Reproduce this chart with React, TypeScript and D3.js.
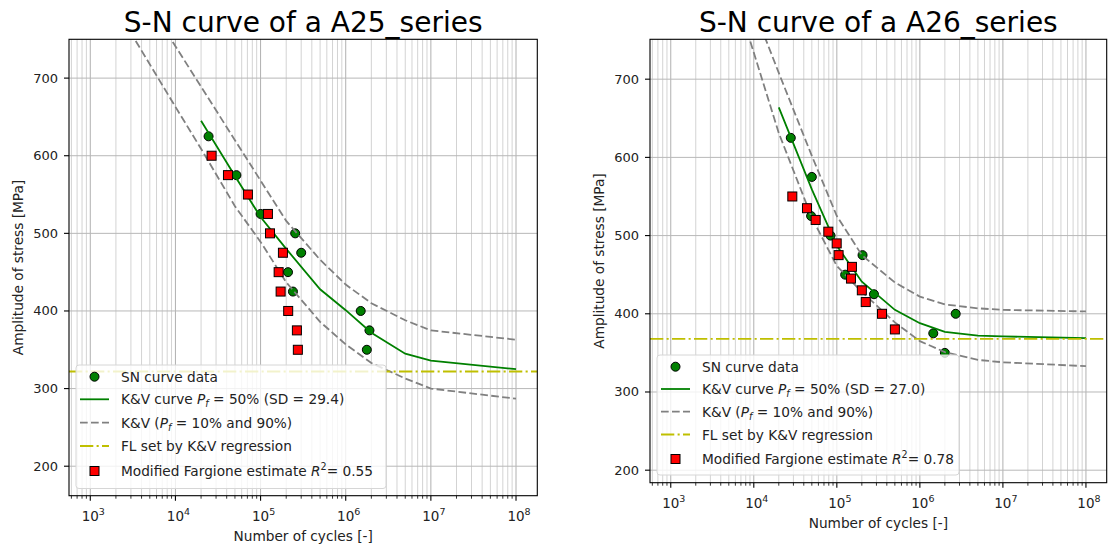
import React from 'react';
import * as d3 from 'd3';

// cycles at which the K&V curves were evaluated
const KV_N = [2e4, 5e4, 1e5, 2e5, 5e5, 1e6, 2e6, 5e6, 1e7, 1e8];
const BAND_N = [1e3, 1e4, 2e4, 5e4, 1e5, 2e5, 5e5, 1e6, 2e6, 5e6, 1e7, 1e8];

// A25 series
const A25_SN_N = [2.45e4, 5.2e4, 1.0e5, 2.55e5, 3.0e5, 2.1e5, 2.4e5, 1.5e6, 1.9e6, 1.77e6];
const A25_SN_S = [625, 575, 525, 500, 475, 450, 425, 400, 375, 350];
const A25_FARG_N = [2.66e4, 4.14e4, 7.1e4, 1.22e5, 1.29e5, 1.83e5, 1.63e5, 1.72e5, 2.11e5, 2.67e5, 2.74e5];
const A25_FARG_S = [600, 575, 550, 525, 500, 475, 450, 425, 400, 375, 350];
const A25_KV50 = [645, 574, 521, 480, 428, 401, 372, 345, 336, 325];
const A25_KV10 = [845, 663, 609, 535, 489, 437, 386, 357, 333, 313, 300, 287];
const A25_KV90 = [914, 741, 689, 620, 568, 516, 466, 434, 410, 388, 375, 363];
const A25_FL = 322;

// A26 series
const A26_SN_N = [2.79e4, 5.0e4, 4.9e4, 8.4e4, 2.04e5, 1.26e5, 2.8e5, 2.7e6, 1.45e6, 2.0e6];
const A26_SN_S = [625, 575, 525, 500, 475, 450, 425, 400, 375, 350];
const A26_FARG_N = [2.91e4, 4.37e4, 5.56e4, 7.9e4, 9.96e4, 1.05e5, 1.52e5, 1.48e5, 2.0e5, 2.23e5, 3.5e5, 5.0e5];
const A26_FARG_S = [550, 535, 520, 505, 490, 475, 460, 445, 430, 415, 400, 380];
const A26_KV50 = [664, 559, 487, 441, 405, 388, 377, 372, 371, 369];
const A26_KV10 = [1070, 734, 631, 523, 461, 428, 389, 365, 351, 341, 338, 333];
const A26_KV90 = [1100, 790, 708, 602, 525, 475, 440, 422, 412, 407, 405, 403];
const A26_FL = 368;

const Y_TICKS = [200, 300, 400, 500, 600, 700];
const X_DECADES = [1e3, 1e4, 1e5, 1e6, 1e7, 1e8];
const X_EXP = ['3', '4', '5', '6', '7', '8'];

const FONT = '"DejaVu Sans", Verdana, sans-serif';

function Panel(props: any) {
  const { id, box, yDomain, title, snN, snS, fN, fS, kv50, kv10, kv90, fl, sd, r2, leg } = props;
  const x = d3.scaleLog().domain([Math.pow(10, 2.75), Math.pow(10, 8.25)]).range([box.x0, box.x1]);
  const y = d3.scaleLinear().domain(yDomain).range([box.y1, box.y0]);

  const path = (ns: number[], ss: number[]) =>
    d3.line<number>().x((_, i) => x(ns[i])).y((s) => y(s))(ss) || '';

  // log minor ticks
  const minor: number[] = [];
  for (let dec = 100; dec < 1e8; dec *= 10) {
    for (let k = 2; k <= 9; k++) {
      const v = k * dec;
      if (v >= x.domain()[0] && v <= x.domain()[1]) minor.push(v);
    }
  }

  const rows = leg.rows;
  const hx0 = leg.x + 4, hx1 = leg.x + 33, hc = (hx0 + hx1) / 2, tx = leg.x + 45;

  return (
    <g fontFamily={FONT}>
      <defs>
        <clipPath id={id}>
          <rect x={box.x0} y={box.y0} width={box.x1 - box.x0} height={box.y1 - box.y0} />
        </clipPath>
      </defs>
      <rect x={box.x0} y={box.y0} width={box.x1 - box.x0} height={box.y1 - box.y0} fill="white" />
      {/* grid */}
      {minor.map((v) => (
        <line key={'mg' + v} x1={x(v)} x2={x(v)} y1={box.y0} y2={box.y1} stroke="#d3d3d3" strokeWidth={1} />
      ))}
      {X_DECADES.map((v) => (
        <line key={'g' + v} x1={x(v)} x2={x(v)} y1={box.y0} y2={box.y1} stroke="#b0b0b0" strokeWidth={1} />
      ))}
      {Y_TICKS.map((v) => (
        <line key={'gy' + v} x1={box.x0} x2={box.x1} y1={y(v)} y2={y(v)} stroke="#b8b8b8" strokeWidth={1} />
      ))}

      <g clipPath={`url(#${id})`}>
        {snN.map((n: number, i: number) => (
          <circle key={'sn' + i} cx={x(n)} cy={y(snS[i])} r={4.5} fill="#008000" stroke="black" strokeWidth={1} />
        ))}
        <path d={path(KV_N, kv50)} fill="none" stroke="#008000" strokeWidth={1.8} />
        <path d={path(BAND_N, kv10)} fill="none" stroke="#808080" strokeWidth={1.8} strokeDasharray="7.7,3.3" />
        <path d={path(BAND_N, kv90)} fill="none" stroke="#808080" strokeWidth={1.8} strokeDasharray="7.7,3.3" />
        <line x1={box.x0} x2={box.x1} y1={y(fl)} y2={y(fl)} stroke="#bfbf00" strokeWidth={1.8} strokeDasharray="13.3,3.3,2.1,3.3" />
        {fN.map((n: number, i: number) => (
          <rect key={'f' + i} x={x(n) - 4.5} y={y(fS[i]) - 4.5} width={9} height={9} fill="red" stroke="black" strokeWidth={1} />
        ))}
      </g>

      {/* spines */}
      <rect x={box.x0} y={box.y0} width={box.x1 - box.x0} height={box.y1 - box.y0} fill="none" stroke="black" strokeWidth={1.1} />

      {/* y ticks */}
      {Y_TICKS.map((v) => (
        <g key={'yt' + v}>
          <line x1={box.x0 - 5} x2={box.x0} y1={y(v)} y2={y(v)} stroke="black" strokeWidth={1.1} />
          <text x={box.x0 - 11} y={y(v) + 4.5} textAnchor="end" fontSize={13} fill="#222">{v}</text>
        </g>
      ))}
      {/* x ticks */}
      {minor.map((v) => (
        <line key={'mt' + v} x1={x(v)} x2={x(v)} y1={box.y1} y2={box.y1 + 3} stroke="black" strokeWidth={0.8} />
      ))}
      {X_DECADES.map((v, i) => (
        <g key={'xt' + v}>
          <line x1={x(v)} x2={x(v)} y1={box.y1} y2={box.y1 + 5} stroke="black" strokeWidth={1.1} />
          <text x={x(v) + 3} y={box.y1 + 25} textAnchor="middle" fontSize={13.5} fill="#222">
            10<tspan dy={-6} fontSize={9.5}>{X_EXP[i]}</tspan>
          </text>
        </g>
      ))}

      <text x={(box.x0 + box.x1) / 2} y={box.y1 + 45} textAnchor="middle" fontSize={13.7} fill="#222">Number of cycles [-]</text>
      <text transform={`translate(${box.x0 - 46},${(box.y0 + box.y1) / 2}) rotate(-90)`} textAnchor="middle" fontSize={13.7} fill="#222">
        Amplitude of stress [MPa]
      </text>
      <text x={(box.x0 + box.x1) / 2} y={31.5} textAnchor="middle" fontSize={28} fill="black">{title}</text>

      {/* legend */}
      <rect x={leg.x} y={leg.y} width={leg.w} height={leg.h} rx={3} fill="white" fillOpacity={0.8} stroke="#d6d6d6" strokeWidth={1} />
      <circle cx={hc} cy={rows[0]} r={4.5} fill="#008000" stroke="black" strokeWidth={1} />
      <text x={tx} y={rows[0] + 5} fontSize={13.7} fill="#222">SN curve data</text>
      <line x1={hx0} x2={hx1} y1={rows[1]} y2={rows[1]} stroke="#008000" strokeWidth={1.8} />
      <text x={tx} y={rows[1] + 5} fontSize={13.7} fill="#222">
        K&amp;V curve <tspan fontStyle="italic">P</tspan><tspan fontStyle="italic" fontSize={9.6} dy={3}>f</tspan>
        <tspan dy={-3}> = 50% (SD = {sd})</tspan>
      </text>
      <line x1={hx0} x2={hx1} y1={rows[2]} y2={rows[2]} stroke="#808080" strokeWidth={1.8} strokeDasharray="7.7,3.3" />
      <text x={tx} y={rows[2] + 5} fontSize={13.7} fill="#222">
        K&amp;V (<tspan fontStyle="italic">P</tspan><tspan fontStyle="italic" fontSize={9.6} dy={3}>f</tspan>
        <tspan dy={-3}> = 10% and 90%)</tspan>
      </text>
      <line x1={hx0} x2={hx1} y1={rows[3]} y2={rows[3]} stroke="#bfbf00" strokeWidth={1.8} strokeDasharray="13.3,3.3,2.1,3.3" />
      <text x={tx} y={rows[3] + 5} fontSize={13.7} fill="#222">FL set by K&amp;V regression</text>
      <rect x={hc - 4.5} y={rows[4] - 4.5} width={9} height={9} fill="red" stroke="black" strokeWidth={1} />
      <text x={tx} y={rows[4] + 5} fontSize={13.7} fill="#222">
        Modified Fargione estimate <tspan fontStyle="italic">R</tspan><tspan fontSize={9.6} dy={-6}>2</tspan>
        <tspan dy={6}>= {r2}</tspan>
      </text>
    </g>
  );
}

export default function App() {
  return (
    <svg width={1108} height={546} style={{ position: 'absolute', left: 0, top: 0, background: 'white' }}>
      <Panel
        id="clipA25"
        box={{ x0: 69, x1: 537.3, y0: 39.3, y1: 495.7 }}
        yDomain={[162, 750]}
        title="S-N curve of a A25_series"
        snN={A25_SN_N} snS={A25_SN_S} fN={A25_FARG_N} fS={A25_FARG_S}
        kv50={A25_KV50} kv10={A25_KV10} kv90={A25_KV90} fl={A25_FL}
        sd="29.4" r2="0.55"
        leg={{ x: 76, y: 365, w: 310, h: 123.5, rows: [376.7, 399.3, 422.7, 446, 471] }}
      />
      <Panel
        id="clipA26"
        box={{ x0: 650, x1: 1106.7, y0: 39.3, y1: 482.7 }}
        yDomain={[184, 751]}
        title="S-N curve of a A26_series"
        snN={A26_SN_N} snS={A26_SN_S} fN={A26_FARG_N} fS={A26_FARG_S}
        kv50={A26_KV50} kv10={A26_KV10} kv90={A26_KV90} fl={A26_FL}
        sd="27.0" r2="0.78"
        leg={{ x: 657, y: 355, w: 302, h: 120, rows: [366.7, 389, 411.7, 434.5, 459] }}
      />
    </svg>
  );
}
